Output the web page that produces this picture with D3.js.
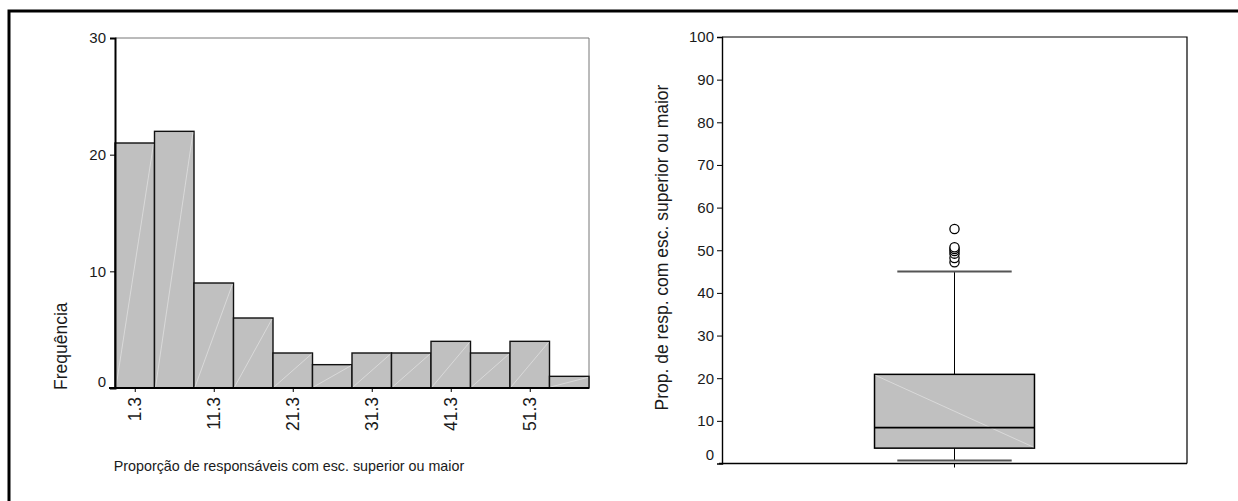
<!DOCTYPE html>
<html>
<head>
<meta charset="utf-8">
<script src="https://cdn.jsdelivr.net/npm/d3@7"></script>
<style>
  html, body { margin: 0; padding: 0; background: #fff; }
  svg { display: block; }
  text { font-family: "Liberation Sans", Arial, sans-serif; fill: #1a1a1a; }
</style>
</head>
<body>
<svg id="chart" width="1238" height="501"></svg>
<script>
// Histogram: bin centres (width 5) and frequencies
const binCenters = [1.3, 6.3, 11.3, 16.3, 21.3, 26.3, 31.3, 36.3, 41.3, 46.3, 51.3, 56.3];
const frequencies = [21, 22, 9, 6, 3, 2, 3, 3, 4, 3, 4, 1];
const binWidth = 5;
const histXTicks = [1.3, 11.3, 21.3, 31.3, 41.3, 51.3];
const histYTicks = [0, 10, 20, 30];

// Box plot: lower whisker, Q1, median, Q3, upper whisker; outliers
const boxSummary = [0.7, 3.6, 8.4, 20.9, 45.0];
const boxOutliers = [47.2, 48.2, 49.2, 49.8, 50.3, 50.7, 55.0];
const boxYTicks = [0, 10, 20, 30, 40, 50, 60, 70, 80, 90, 100];

const histXLabel = "Proporção de responsáveis com esc. superior ou maior";
const histYLabel = "Frequência";
const boxYLabel = "Prop. de resp. com esc. superior ou maior";

const svg = d3.select("#chart");

// outer frame (top and left edges)
svg.append("path")
  .attr("d", "M9,501 V11 H1238")
  .attr("fill", "none").attr("stroke", "#000").attr("stroke-width", 3);

// ---------------- Histogram ----------------
const hx = d3.scaleLinear()
  .domain([binCenters[0] - binWidth / 2, binCenters[binCenters.length - 1] + binWidth / 2])
  .range([115, 589]);
const hy = d3.scaleLinear().domain([0, 30]).range([388, 38]);

const hist = svg.append("g");

// plot box (top and right edges)
hist.append("path")
  .attr("d", `M${hx.range()[0]},${hy(30)} H${hx.range()[1]} V${hy(0)}`)
  .attr("fill", "none").attr("stroke", "#777").attr("stroke-width", 1);

const bars = hist.selectAll("g.bar").data(binCenters.map((c, i) => ({ c, f: frequencies[i] })))
  .enter().append("g").attr("class", "bar");
bars.append("rect")
  .attr("x", d => hx(d.c - binWidth / 2))
  .attr("y", d => hy(d.f))
  .attr("width", d => hx(d.c + binWidth / 2) - hx(d.c - binWidth / 2))
  .attr("height", d => hy(0) - hy(d.f))
  .attr("fill", "#c0c0c0")
  .attr("stroke", "#111").attr("stroke-width", 1.4);
bars.append("line")
  .attr("x1", d => hx(d.c - binWidth / 2) + 1)
  .attr("y1", hy(0) - 1)
  .attr("x2", d => hx(d.c + binWidth / 2) - 1)
  .attr("y2", d => hy(d.f) + 1)
  .attr("stroke", "#e4e4e4").attr("stroke-width", 0.7);

// y axis
const hyAxis = hist.append("g").attr("transform", `translate(${hx.range()[0]},0)`)
  .call(d3.axisLeft(hy).tickValues(histYTicks).tickSize(5).tickPadding(4).tickFormat(d3.format("d")));
hyAxis.select(".domain").attr("stroke", "#000").attr("stroke-width", 2);
hyAxis.selectAll(".tick line").attr("stroke", "#000");
hyAxis.selectAll(".tick text").style("font-size", "15px").attr("fill", "#1a1a1a")
  .attr("font-family", "Liberation Sans, Arial, sans-serif")
  .attr("dy", d => d === 0 ? "-0.1em" : "0.32em");
hyAxis.selectAll(".tick").filter(d => d === 0).select("line").remove();

// x axis
const hxAxis = hist.append("g").attr("transform", `translate(0,${hy(0)})`)
  .call(d3.axisBottom(hx).tickValues(histXTicks).tickSize(4).tickSizeOuter(0).tickFormat(d3.format(".1f")));
hxAxis.select(".domain").attr("stroke", "#000").attr("stroke-width", 2)
  .attr("d", `M${hx.range()[0] - 6},0H${hx.range()[1]}`);
hxAxis.selectAll(".tick line").attr("stroke", "#000");
hxAxis.selectAll(".tick text")
  .attr("font-family", "Liberation Sans, Arial, sans-serif")
  .style("font-size", "17.5px").attr("fill", "#1a1a1a")
  .attr("text-anchor", "end")
  .attr("y", 0).attr("dy", "0.35em")
  .attr("transform", "translate(0,9) rotate(-90)");

hist.append("text")
  .attr("x", 289)
  .attr("y", 471)
  .attr("text-anchor", "middle")
  .style("font-size", "14.3px")
  .text(histXLabel);

hist.append("text")
  .attr("transform", "translate(61,390) rotate(-90)")
  .attr("text-anchor", "start")
  .attr("dy", "0.35em")
  .style("font-size", "17.5px")
  .text(histYLabel);

// ---------------- Box plot ----------------
const bx = d3.scaleBand().domain(["all"]).range([722, 1187]);
const by = d3.scaleLinear().domain([0, 100]).range([463.5, 37]);
const cx = bx("all") + bx.bandwidth() / 2;
const boxHalf = bx.bandwidth() * 0.172;
const capHalf = bx.bandwidth() * 0.123;

const box = svg.append("g");

box.append("path")
  .attr("d", `M${bx.range()[0]},${by(100)} H${bx.range()[1]} V${by(0)}`)
  .attr("fill", "none").attr("stroke", "#000").attr("stroke-width", 1.2);

const byAxis = box.append("g").attr("transform", `translate(${bx.range()[0]},0)`)
  .call(d3.axisLeft(by).tickValues(boxYTicks).tickSize(5).tickPadding(3).tickFormat(d3.format("d")));
byAxis.select(".domain").attr("stroke", "#000").attr("stroke-width", 1.4);
byAxis.selectAll(".tick line").attr("stroke", "#000");
byAxis.selectAll(".tick text").style("font-size", "15px").attr("fill", "#1a1a1a")
  .attr("font-family", "Liberation Sans, Arial, sans-serif")
  .attr("dy", d => d === 0 ? "-0.3em" : "0.32em");
byAxis.selectAll(".tick").filter(d => d === 0).select("line").remove();

// bottom axis with a single centre tick
box.append("line")
  .attr("x1", bx.range()[0] - 3).attr("x2", bx.range()[1])
  .attr("y1", by(0)).attr("y2", by(0))
  .attr("stroke", "#000").attr("stroke-width", 1.6);
box.append("line")
  .attr("x1", cx).attr("x2", cx).attr("y1", by(0)).attr("y2", by(0) + 4)
  .attr("stroke", "#000").attr("stroke-width", 1);

const [wLo, q1, med, q3, wHi] = boxSummary;

// whiskers
box.append("line").attr("x1", cx).attr("x2", cx).attr("y1", by(q3)).attr("y2", by(wHi))
  .attr("stroke", "#000").attr("stroke-width", 1);
box.append("line").attr("x1", cx).attr("x2", cx).attr("y1", by(q1)).attr("y2", by(wLo))
  .attr("stroke", "#000").attr("stroke-width", 1);
[wLo, wHi].forEach(v => {
  box.append("line")
    .attr("x1", cx - capHalf).attr("x2", cx + capHalf)
    .attr("y1", by(v)).attr("y2", by(v))
    .attr("stroke", "#555").attr("stroke-width", 2);
});

// box
box.append("rect")
  .attr("x", cx - boxHalf).attr("y", by(q3))
  .attr("width", boxHalf * 2).attr("height", by(q1) - by(q3))
  .attr("fill", "#c0c0c0").attr("stroke", "#000").attr("stroke-width", 1.5);
box.append("line")
  .attr("x1", cx - boxHalf + 1).attr("y1", by(q3) + 1)
  .attr("x2", cx + boxHalf - 1).attr("y2", by(q1) - 1)
  .attr("stroke", "#e4e4e4").attr("stroke-width", 0.7);
box.append("line")
  .attr("x1", cx - boxHalf).attr("x2", cx + boxHalf)
  .attr("y1", by(med)).attr("y2", by(med))
  .attr("stroke", "#000").attr("stroke-width", 1.6);

// outliers
box.selectAll("circle.out").data(boxOutliers).enter().append("circle")
  .attr("class", "out")
  .attr("cx", cx).attr("cy", d => by(d)).attr("r", 4.6)
  .attr("fill", "#fff").attr("stroke", "#000").attr("stroke-width", 1.3);

box.append("text")
  .attr("transform", `translate(662,${(82 + 413) / 2}) rotate(-90)`)
  .attr("text-anchor", "middle")
  .attr("dy", "0.35em")
  .style("font-size", "17.5px")
  .text(boxYLabel);
</script>
</body>
</html>
